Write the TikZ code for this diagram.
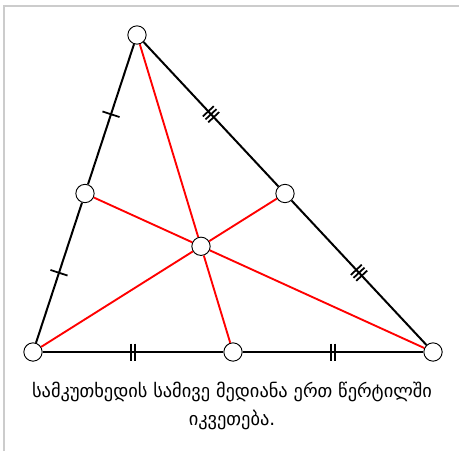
\documentclass[tikz,border=0pt]{standalone}
\usepackage{fontspec}
\newfontfamily\georgianfont{DejaVu Sans}
\usetikzlibrary{decorations.markings}
\definecolor{medianRed}{HTML}{FF0000}
\definecolor{frameGray}{HTML}{CCCCCC}

\begin{document}
\begin{tikzpicture}[
    x=0.03cm, y=-0.03cm,
    pt/.style={circle, draw, fill=white, line width=0.8pt, minimum size=0.55cm, inner sep=0pt},
    edge/.style={line width=1.7pt},
    median/.style={line width=1.6pt, medianRed},
    tickone/.style={postaction=decorate, decoration={markings, mark=at position 0.5 with {\draw[line width=1.5pt, black] (0,-9) -- (0,9);}}},
    ticktwo/.style={postaction=decorate, decoration={markings, mark=at position 0.5 with {\draw[line width=1.5pt, black] (-2.2,-8.5) -- (-2.2,8.5) (2.2,-8.5) -- (2.2,8.5);}}},
    tickthree/.style={postaction=decorate, decoration={markings, mark=at position 0.5 with {\draw[line width=1.5pt, black] (-4,-7.5) -- (-4,7.5) (0,-7.5) -- (0,7.5) (4,-7.5) -- (4,7.5);}}}
]
\useasboundingbox (0,0) rectangle (459,451);
\draw[frameGray, line width=1pt] (4,451) -- (4,6) -- (459,6);

% vertices, midpoints, centroid
\node[pt] (A) at (33,352) {};
\node[pt] (B) at (137,35) {};
\node[pt] (C) at (433,352) {};
\node[pt] (Mab) at (85,193.5) {};
\node[pt] (Mbc) at (285,193.5) {};
\node[pt] (Mac) at (233,352) {};
\node[pt] (G) at (201,246.3) {};

% sides
\draw[edge, tickone] (A) -- (Mab);
\draw[edge, tickone] (Mab) -- (B);
\draw[edge, tickthree] (B) -- (Mbc);
\draw[edge, tickthree] (Mbc) -- (C);
\draw[edge, ticktwo] (A) -- (Mac);
\draw[edge, ticktwo] (Mac) -- (C);

% medians
\draw[median] (A) -- (G);
\draw[median] (G) -- (Mbc);
\draw[median] (B) -- (G);
\draw[median] (G) -- (Mac);
\draw[median] (C) -- (G);
\draw[median] (G) -- (Mab);

\node[font=\georgianfont\fontsize{15.7}{24}\selectfont, align=center] (caption) at (232,406) {სამკუთხედის სამივე მედიანა ერთ წერტილში\\იკვეთება.};

\end{tikzpicture}
\end{document}
